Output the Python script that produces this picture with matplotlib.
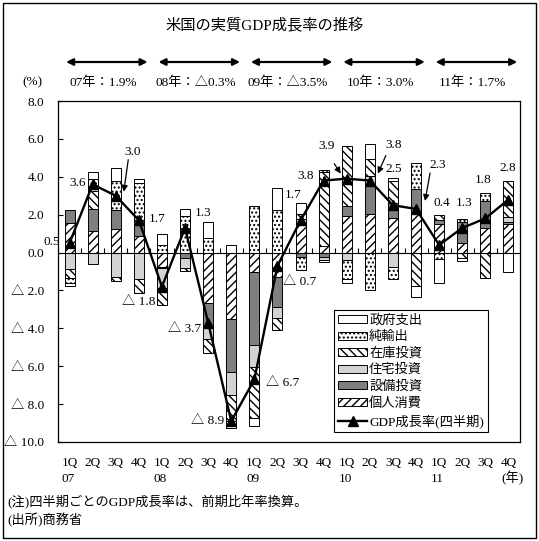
import matplotlib
matplotlib.use('Agg')
import matplotlib.pyplot as plt
import numpy as np
from matplotlib.patches import Rectangle, Patch
from matplotlib.lines import Line2D

plt.rcParams['font.family'] = ['Liberation Serif', 'Noto Sans CJK JP', 'DejaVu Sans']
plt.rcParams['hatch.linewidth'] = 1.0

# ---------------- data ----------------
quarters = ['1Q', '2Q', '3Q', '4Q'] * 5
years = ['07', '08', '09', '10', '11']

consumption = [1.58, 1.12, 1.26, 0.85, -0.76, 0.00, -2.65, -3.53, -1.02, -1.28,
               1.53, 0.33, 1.91, 2.05, 1.85, 2.14, 1.49, 0.53, 1.32, 1.49]
equipment = [0.68, 1.16, 1.00, 0.60, -0.05, -0.28, -1.30, -2.80, -3.86, -1.62,
             -0.26, -0.25, 0.53, 1.49, 0.75, 1.19, 0.25, 1.08, 1.40, 0.12]
housing = [-0.88, -0.62, -1.28, -1.37, -1.08, -0.56, -0.63, -1.18, -1.14, -0.57,
           0.25, -0.12, -0.40, 0.50, -0.77, 0.00, 0.00, 0.00, 0.00, 0.25]
inventory = [-0.44, 0.98, -0.21, -0.79, -0.87, -0.14, -0.73, -1.39, -2.72, -0.62,
             0.24, 3.90, 3.17, 0.91, 1.17, -1.77, 0.26, -0.28, -1.36, 1.94]
net_exports = [-0.28, 0.61, 1.54, 2.23, 0.38, 1.95, 0.79, -0.35, 2.44, 2.23,
               -0.67, 0.12, -0.97, -1.97, -0.63, 1.41, -0.32, 0.18, 0.44, 0.00]
government = [-0.16, 0.37, 0.67, 0.20, 0.58, 0.37, 0.82, 0.38, -0.40, 1.19,
              0.59, -0.12, -0.26, 0.79, 0.18, -0.56, -1.31, -0.18, 0.00, -1.05]
gdp = [0.5, 3.6, 3.0, 1.7, -1.8, 1.3, -3.7, -8.9, -6.7, -0.7,
       1.7, 3.8, 3.9, 3.8, 2.5, 2.3, 0.4, 1.3, 1.8, 2.8]

series_names = ['個人消費', '設備投資', '住宅投資', '在庫投資', '純輸出', '政府支出']
gdp_name = 'GDP成長率(四半期)'
year_labels = ['07年：1.9%', '08年：△0.3%', '09年：△3.5%', '10年：3.0%', '11年：1.7%']
title = '米国の実質GDP成長率の推移'
note1 = '(注)四半期ごとのGDP成長率は、前期比年率換算。'
note2 = '(出所)商務省'


def fmt(v):
    return f'{v:.1f}' if v >= 0 else f'△ {abs(v):.1f}'


# ---------------- styles / layout ----------------
styles = [
    dict(facecolor='white', hatch='////'),
    dict(facecolor='#7f7f7f'),
    dict(facecolor='#d3d3d3'),
    dict(facecolor='white', hatch='\\\\\\\\'),
    dict(facecolor='white', hatch='....'),
    dict(facecolor='white'),
]
# label offsets in pixels (dx, dy up) relative to each GDP point
label_offsets = [(-18, 1), (-15, 1), (17, 44), (18, 1), (-23, -15), (18, 15),
                 (-24, -6), (-24, 0), (28, -4), (22, -16), (-7, 25), (-18, 5),
                 (-20, 33), (24, 36), (1, 36), (22, 44), (3, 42), (2, 25),
                 (-2, 38), (-1, 32)]
# arrows: index -> (start dx, start dy, end dx, end dy) in pixels
arrows = {2: (12.5, 36, 8, 4), 12: (-12.5, 15, -6, 5),
          13: (16, 25, 8, 7), 15: (14, 36, 9, 8)}

W, H = 539, 541
fs = 9.5
fig = plt.figure(figsize=(W / 100, H / 100), dpi=100)
ax = fig.add_axes([58 / W, 1 - 442 / H, (520 - 58) / W, (442 - 101) / H])

n = len(gdp)
x = np.arange(n)
all_series = [consumption, equipment, housing, inventory, net_exports, government]
pos_b = np.zeros(n)
neg_b = np.zeros(n)
for name, vals, st in zip(series_names, all_series, styles):
    v = np.array(vals, dtype=float)
    b = np.where(v >= 0, pos_b, neg_b)
    m = v != 0
    ax.bar(x[m], v[m], width=0.43, bottom=b[m], edgecolor='black',
           linewidth=0.7, zorder=2, **st)
    pos_b += np.where(v > 0, v, 0)
    neg_b += np.where(v < 0, v, 0)

ax.axhline(0, color='black', lw=0.8, zorder=3)
ax.vlines(x[1:] - 0.5, 0, 0.22, color='black', lw=0.8, zorder=3)
ax.plot(x, gdp, color='black', lw=1.7, marker='^', ms=7.5, zorder=5)

ax.set_xlim(-0.5, n - 0.5)
ax.set_ylim(-10, 8)
yt = np.arange(-10, 8.1, 2)
ax.set_yticks(yt)
ax.set_yticklabels([fmt(v) for v in yt], fontsize=fs)
ax.tick_params(axis='y', direction='in', length=3.5, width=0.8, pad=10)
xl = []
for i, q in enumerate(quarters):
    xl.append(q + '\n' + years[i // 4] if i % 4 == 0 else q)
ax.set_xticks(x)
ax.set_xticklabels(xl, fontsize=fs, linespacing=1.45, multialignment='left')
ax.tick_params(axis='x', length=0, pad=11)
for s in ax.spines.values():
    s.set_linewidth(0.9)

fig.canvas.draw()
for i, v in enumerate(gdp):
    px, py = ax.transData.transform((i, v))
    dx, dy = label_offsets[i]
    fig.text((px + dx) / W, (py + dy) / H, fmt(v), fontsize=fs,
             ha='center', va='center', zorder=6)
for i, (sx, sy, ex, ey) in arrows.items():
    px, py = ax.transData.transform((i, gdp[i]))
    ax.annotate('', xy=(px + ex, py + ey), xycoords='figure pixels',
                xytext=(px + sx, py + sy), textcoords='figure pixels',
                arrowprops=dict(arrowstyle='-|>', color='black', lw=0.9,
                                mutation_scale=9, shrinkA=0, shrinkB=0))

# year arrows and labels
yy = 1 - 62 / H
for k, lab in enumerate(year_labels):
    x0 = ax.transData.transform((4 * k - 0.27, 0))[0] / W
    x1 = ax.transData.transform((4 * k + 3.5, 0))[0] / W
    fig.add_artist(matplotlib.patches.FancyArrowPatch(
        (x0, yy), (x1, yy), transform=fig.transFigure, arrowstyle='<|-|>',
        mutation_scale=10, color='black', lw=1.6))
    xc = ax.transData.transform((4 * k + 1.45, 0))[0] / W
    fig.text(xc, 1 - 82.5 / H, lab, fontsize=fs, ha='center', va='center')

fig.text(264.6 / W, 1 - 26 / H, title, fontsize=11, ha='center', va='center')
fig.text(32.6 / W, 1 - 82.5 / H, '(%)', fontsize=fs, ha='center', va='center')
fig.text(512 / W, 1 - 478 / H, '(年)', fontsize=fs, ha='center', va='center')
fig.text(7 / W, 1 - 502 / H, note1, fontsize=fs, ha='left', va='center')
fig.text(7 / W, 1 - 520 / H, note2, fontsize=fs, ha='left', va='center')

fig.add_artist(Rectangle((3 / W, 3 / H), 533 / W, 535 / H, transform=fig.transFigure,
                         fill=False, edgecolor='black', lw=1.0))

handles = [Patch(edgecolor='black', linewidth=0.7, **st) for st in styles]
handles = handles[::-1] + [Line2D([], [], color='black', lw=1.7, marker='^', ms=7.5)]
labels = series_names[::-1] + [gdp_name]
leg = fig.legend(handles, labels, loc='lower right',
                 bbox_to_anchor=(488 / W, 1 - 432 / H), fontsize=fs,
                 frameon=True, fancybox=False, edgecolor='black', framealpha=1,
                 handlelength=2.2, handleheight=0.55, handletextpad=0.15,
                 labelspacing=0.33, borderpad=0.3, borderaxespad=0)
leg.get_frame().set_linewidth(0.8)

fig.savefig('out.png', dpi=100)
